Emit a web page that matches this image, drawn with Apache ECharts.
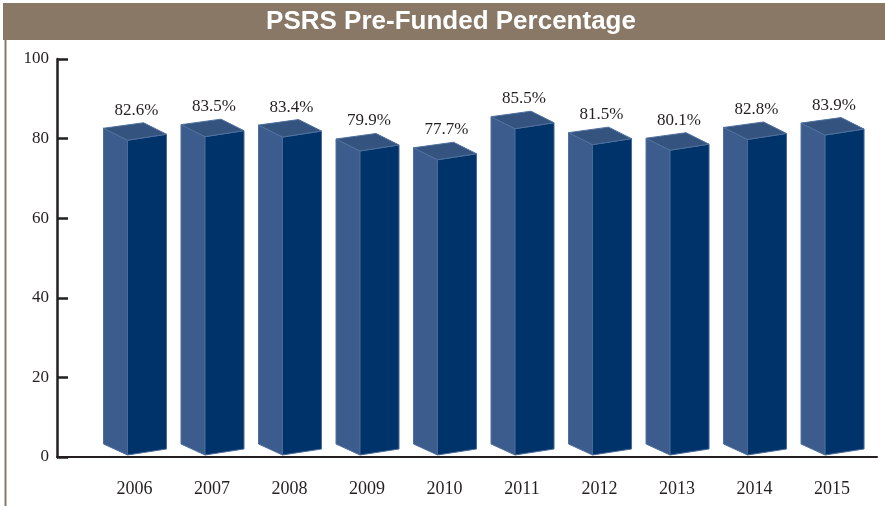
<!DOCTYPE html>
<html>
<head>
<meta charset="utf-8">
<script src="https://cdn.jsdelivr.net/npm/echarts@6/dist/echarts.min.js"></script>
<style>
  html, body { margin: 0; padding: 0; background: #fff; }
  #chart { width: 885px; height: 506px; }
</style>
</head>
<body>
<div id="chart"></div>
<script>
// chart data
var years = ['2006', '2007', '2008', '2009', '2010', '2011', '2012', '2013', '2014', '2015'];
var funded = [82.6, 83.5, 83.4, 79.9, 77.7, 85.5, 81.5, 80.1, 82.8, 83.9];
var yTicks = [0, 20, 40, 60, 80, 100];

var serif = '"Liberation Serif", "DejaVu Serif", serif';
var ink = '#231f20';
var band = '#8a7866';

var myChart = echarts.init(document.getElementById('chart'));

// 3d-ish box drawn from the axis coordinates
function renderBar(params, api) {
    var i = api.value(0);
    var v = api.value(1);
    var top = api.coord([i, v]);
    var base = api.coord([i, 0]);
    var c = top[0], y = top[1], b = base[1];

    var TL = [c - 31, y], BK = [c + 9, y - 5.5], FR = [c + 32, y + 6], FL = [c - 7, y + 12];
    var BL = [c - 31, b - 13], FLb = [c - 7, b - 2], FRb = [c + 32, b - 8];

    return {
        type: 'group',
        children: [
            { type: 'polygon', shape: { points: [TL, FL, FLb, BL] },
              style: { fill: '#3b5c8c', stroke: '#4f6f9d', lineWidth: 1 } },
            { type: 'polygon', shape: { points: [FL, FR, FRb, FLb] },
              style: { fill: '#00336a', stroke: '#4a6a98', lineWidth: 1 } },
            { type: 'polygon', shape: { points: [TL, BK, FR, FL] },
              style: { fill: '#34547f', stroke: '#4f6f9d', lineWidth: 1 } },
            { type: 'text',
              style: { text: v.toFixed(1) + '%', x: c + 2, y: y - 18,
                       align: 'center', verticalAlign: 'middle',
                       textAlign: 'center', textVerticalAlign: 'middle',
                       font: '17px ' + serif, fill: ink } }
        ]
    };
}

var barData = funded.map(function (v, i) { return [i, v]; });

var option = {
    animation: false,
    backgroundColor: '#fff',
    grid: { left: 57, right: 8, top: 59, bottom: 49 },
    graphic: [
        { type: 'rect', shape: { x: 3, y: 3, width: 882, height: 37 }, style: { fill: band } },
        { type: 'rect', shape: { x: 4.5, y: 40, width: 2, height: 466 }, style: { fill: band } },
        { type: 'text', x: 451, y: 22,
          style: { text: 'PSRS Pre-Funded Percentage', fill: '#fff',
                   font: 'bold 26px "Liberation Sans", Arial, sans-serif',
                   align: 'center', verticalAlign: 'middle' } }
    ],
    xAxis: {
        type: 'value',
        min: -1,
        max: 9.58,
        interval: 1,
        splitLine: { show: false },
        axisTick: { show: false },
        axisLine: { lineStyle: { color: ink, width: 2 } },
        axisLabel: {
            margin: 23,
            fontFamily: serif,
            fontSize: 18,
            color: ink,
            showMaxLabel: false,
            formatter: function (val) {
                return years[val] !== undefined && val === Math.round(val) ? years[val] : '';
            }
        }
    },
    yAxis: {
        type: 'value',
        min: yTicks[0],
        max: yTicks[yTicks.length - 1],
        interval: 20,
        splitLine: { show: false },
        axisLine: { show: true, onZero: false, lineStyle: { color: ink, width: 2.5 } },
        axisTick: { show: true, inside: true, length: 11, lineStyle: { color: ink, width: 2.5 } },
        axisLabel: { margin: 8, fontFamily: serif, fontSize: 17, color: ink }
    },
    series: [
        {
            type: 'custom',
            renderItem: renderBar,
            encode: { x: 0, y: 1 },
            clip: false,
            data: barData
        }
    ]
};

myChart.setOption(option);
</script>
</body>
</html>
